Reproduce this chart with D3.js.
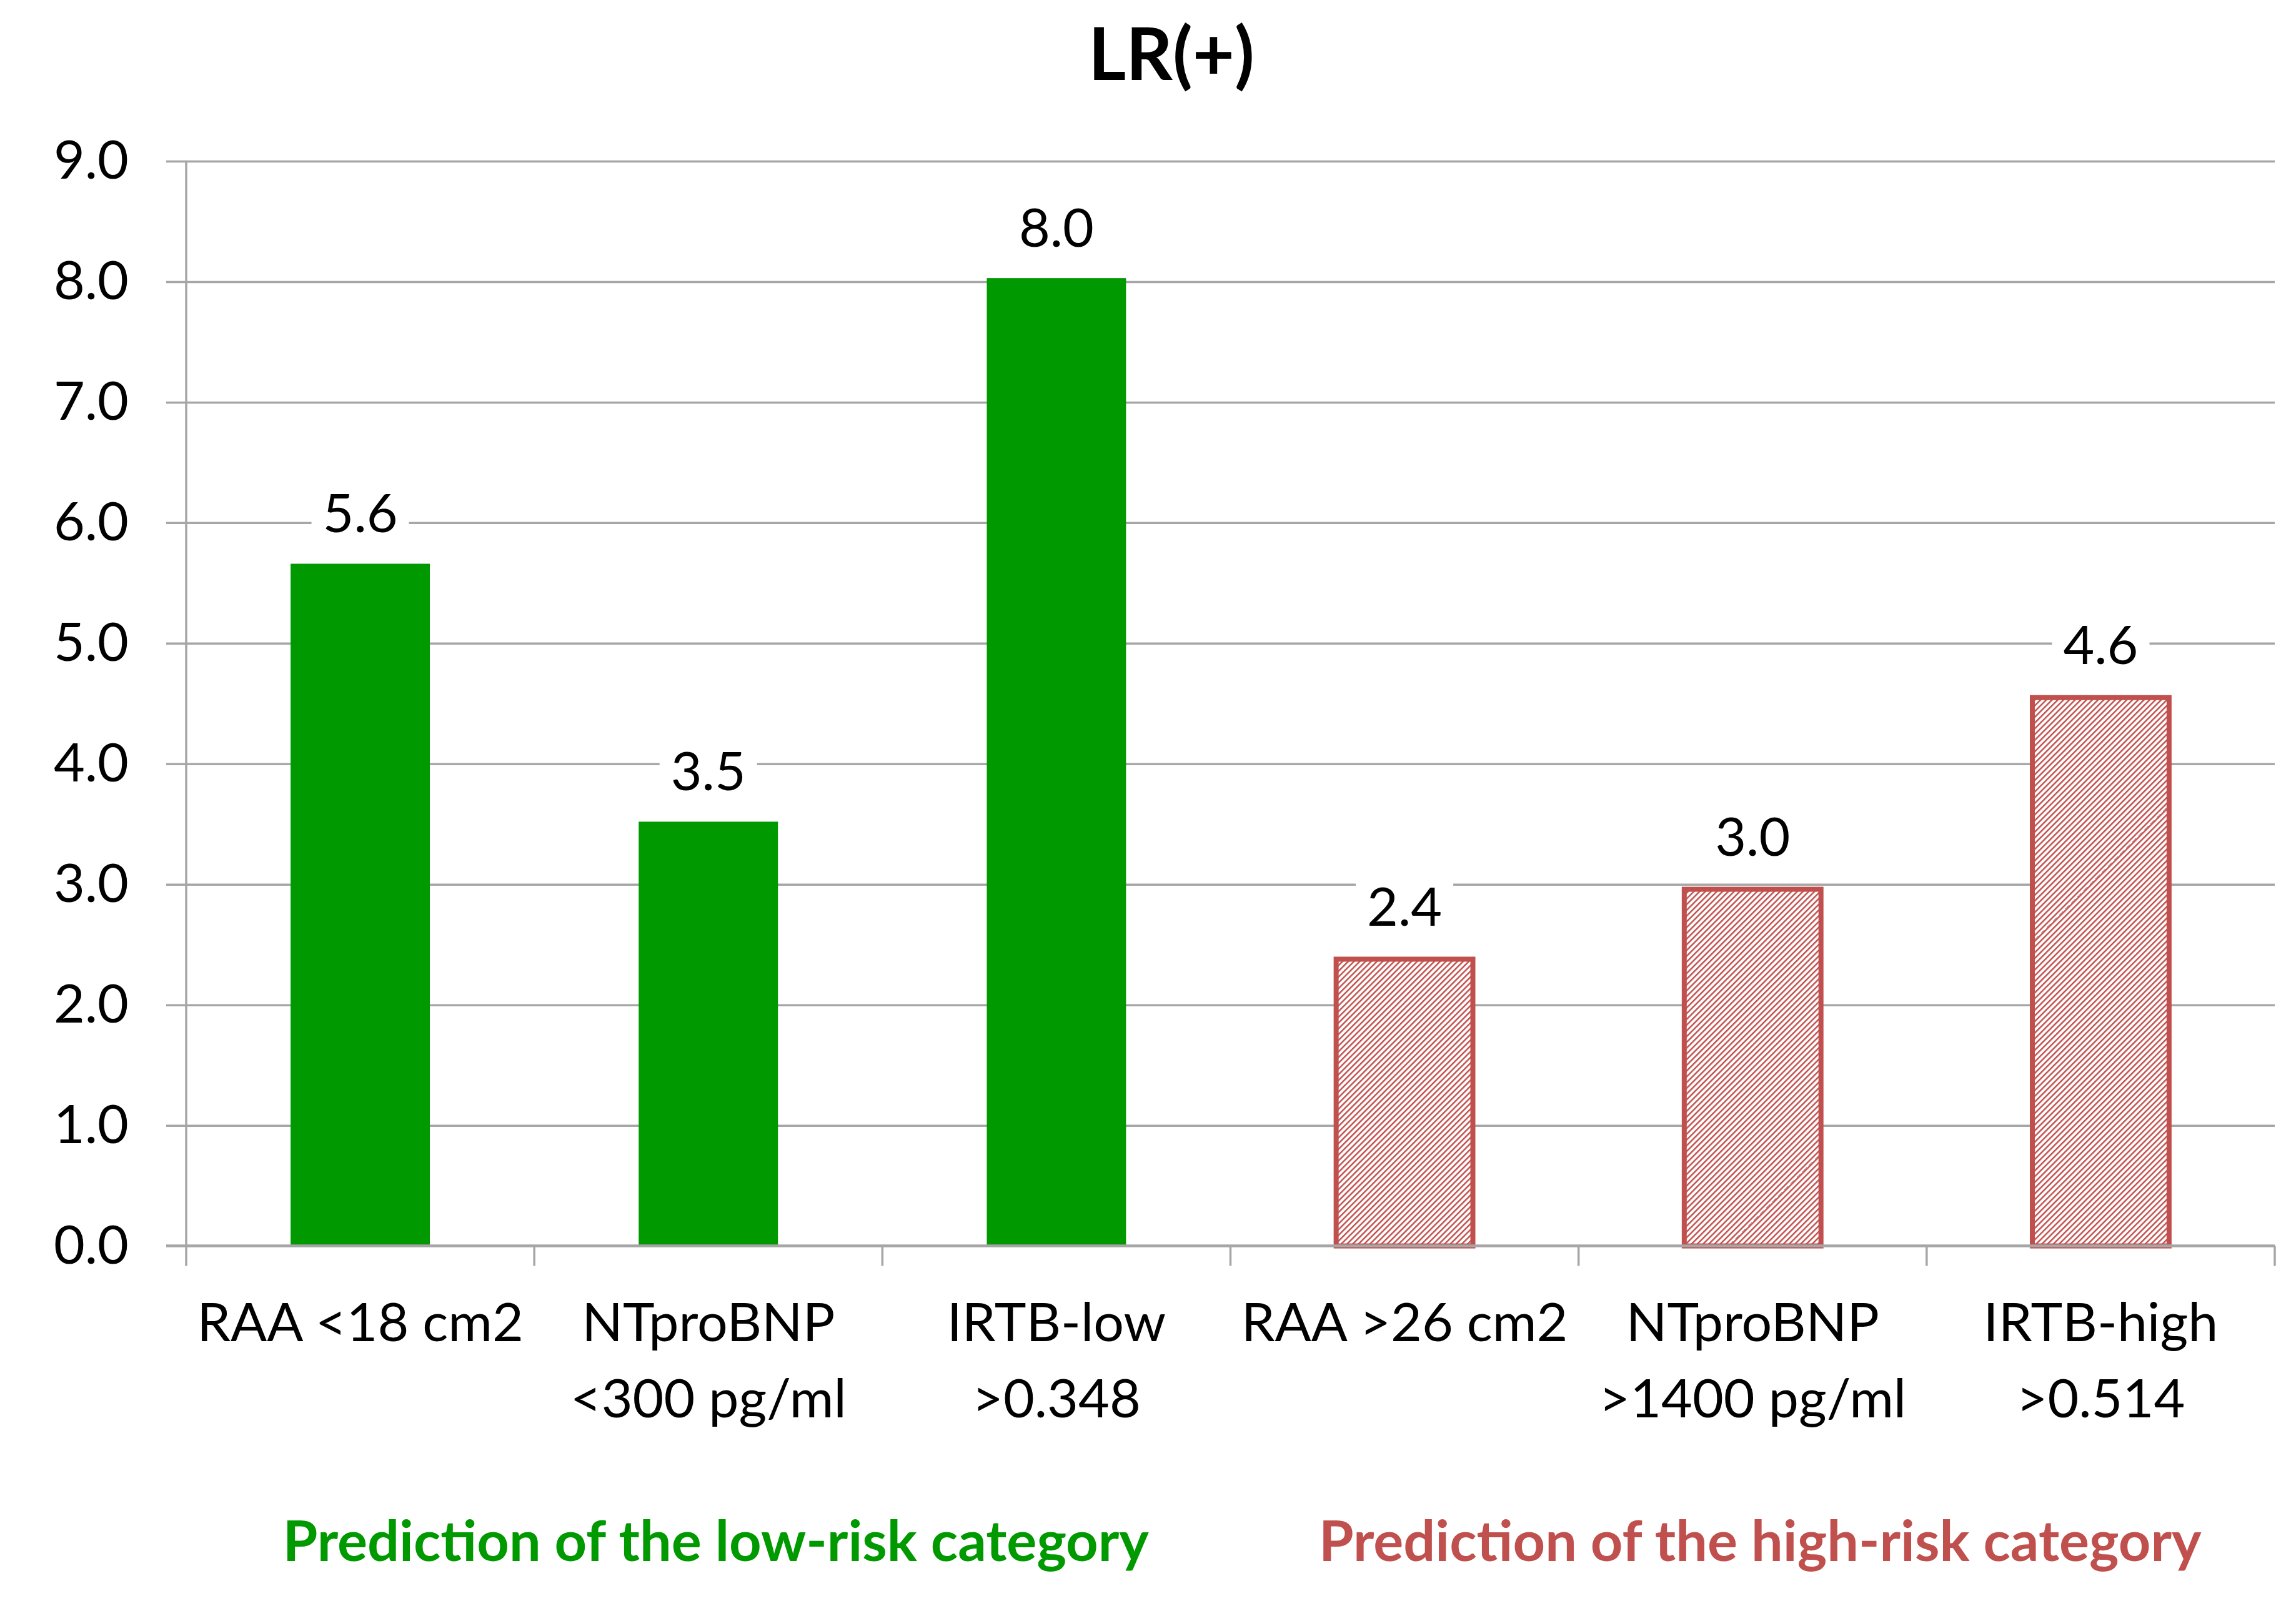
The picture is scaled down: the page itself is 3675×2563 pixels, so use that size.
<!DOCTYPE html>
<html>
<head>
<meta charset="utf-8">
<script src="https://cdn.jsdelivr.net/npm/d3@7"></script>
<style>
  html, body { margin: 0; padding: 0; background: #fff; }
  svg { display: block; }
  text { font-family: Lato, "Open Sans", sans-serif; }
</style>
</head>
<body>
<svg id="chart"></svg>
<script>
// data
const categories = ['RAA <18 cm2', 'NTproBNP <300 pg/ml', 'IRTB-low >0.348', 'RAA >26 cm2', 'NTproBNP >1400 pg/ml', 'IRTB-high >0.514'];
const categoryLines = [['RAA <18 cm2'], ['NTproBNP', '<300 pg/ml'], ['IRTB-low', '>0.348'], ['RAA >26 cm2'], ['NTproBNP', '>1400 pg/ml'], ['IRTB-high', '>0.514']];
const values = [5.66, 3.52, 8.03, 2.40, 2.98, 4.57];
const valueLabels = ['5.6', '3.5', '8.0', '2.4', '3.0', '4.6'];
const groups = ['low', 'low', 'low', 'high', 'high', 'high'];
const yTicks = [0, 1, 2, 3, 4, 5, 6, 7, 8, 9];
const groupLabels = [
  { key: 'low', text: 'Prediction of the low-risk category', cats: [0, 2], shift: 12 },
  { key: 'high', text: 'Prediction of the high-risk category', cats: [3, 5], shift: 12 }
];
const title = 'LR(+)';

// size
const width = 3675;
const height = 2563;
const x0 = 298, x1 = 3641;
const yTop = 258, yBottom = 1994.6;

const green = '#009900';
const red = '#c0504d';
const grey = '#a6a6a6';

const svg = d3.select('#chart')
  .attr('width', width)
  .attr('height', height);

svg.append('rect').attr('width', width).attr('height', height).attr('fill', '#fff');

// hatch pattern for high-risk bars
const defs = svg.append('defs');
const pat = defs.append('pattern')
  .attr('id', 'hatch')
  .attr('patternUnits', 'userSpaceOnUse')
  .attr('width', 6.5)
  .attr('height', 6.5)
  .attr('patternTransform', 'rotate(45)');
pat.append('rect').attr('width', 6.5).attr('height', 6.5).attr('fill', '#fff');
pat.append('line')
  .attr('x1', 0).attr('y1', 0).attr('x2', 0).attr('y2', 6.5)
  .attr('stroke', red).attr('stroke-width', 5);

// scales
const x = d3.scaleBand()
  .domain(categories)
  .range([x0, x1])
  .paddingInner(0.6)
  .paddingOuter(0.3);

const y = d3.scaleLinear()
  .domain([0, 9])
  .range([yBottom, yTop]);

// gridlines (extend left as outer ticks)
const grid = svg.append('g')
  .attr('transform', `translate(${x0 - 32},0)`)
  .call(d3.axisRight(y).tickValues(yTicks.slice(1)).tickSize(x1 - x0 + 32).tickFormat(''));
grid.select('.domain').remove();
grid.selectAll('line').attr('stroke', grey).attr('stroke-width', 3.5);

// y axis labels
const yAxis = svg.append('g')
  .attr('transform', `translate(${x0},0)`)
  .call(d3.axisLeft(y).tickValues(yTicks).tickSize(0).tickPadding(92).tickFormat(d3.format('.1f')));
yAxis.select('.domain').remove();
yAxis.selectAll('text')
  .attr('font-family', 'Lato')
  .attr('font-size', 86)
  .attr('fill', '#000');

// y axis line
svg.append('line')
  .attr('x1', x0).attr('x2', x0)
  .attr('y1', yTop).attr('y2', yBottom)
  .attr('stroke', grey).attr('stroke-width', 3.5);

// bars
svg.selectAll('.bar')
  .data(values)
  .enter()
  .append('rect')
  .attr('class', 'bar')
  .attr('x', (d, i) => x(categories[i]) + (groups[i] === 'high' ? 2 : 0))
  .attr('width', (d, i) => x.bandwidth() - (groups[i] === 'high' ? 4 : 0))
  .attr('y', (d, i) => y(d) + (groups[i] === 'high' ? 4 : 0))
  .attr('height', (d, i) => yBottom - y(d) - (groups[i] === 'high' ? 4 : 0))
  .attr('fill', (d, i) => groups[i] === 'high' ? 'url(#hatch)' : green)
  .attr('stroke', (d, i) => groups[i] === 'high' ? red : 'none')
  .attr('stroke-width', 8);

// x axis line with category separators
const step = x.step();
svg.append('line')
  .attr('x1', x0 - 32).attr('x2', x1)
  .attr('y1', yBottom).attr('y2', yBottom)
  .attr('stroke', grey).attr('stroke-width', 4.5);
svg.selectAll('.xtick')
  .data(d3.range(categories.length + 1))
  .enter()
  .append('line')
  .attr('class', 'xtick')
  .attr('x1', i => x0 + i * step)
  .attr('x2', i => x0 + i * step)
  .attr('y1', yBottom)
  .attr('y2', yBottom + 32)
  .attr('stroke', grey)
  .attr('stroke-width', 3.5);

// category labels
const catG = svg.selectAll('.cat')
  .data(categoryLines)
  .enter()
  .append('text')
  .attr('class', 'cat')
  .attr('text-anchor', 'middle')
  .attr('font-size', 86)
  .attr('fill', '#000');
catG.each(function(lines, i) {
  const cx = x(categories[i]) + x.bandwidth() / 2;
  d3.select(this).selectAll('tspan')
    .data(lines)
    .enter()
    .append('tspan')
    .attr('x', cx)
    .attr('y', (l, j) => 2147 + j * 122)
    .text(l => l);
});

// value labels with white box behind
const labelG = svg.selectAll('.vlabel')
  .data(values)
  .enter()
  .append('g')
  .attr('class', 'vlabel');
labelG.each(function(d, i) {
  const g = d3.select(this);
  const cx = x(categories[i]) + x.bandwidth() / 2;
  const t = g.append('text')
    .attr('x', cx)
    .attr('y', y(d) - 50)
    .attr('text-anchor', 'middle')
    .attr('font-size', 86)
    .attr('fill', '#000')
    .text(valueLabels[i]);
  const bb = t.node().getBBox();
  g.insert('rect', 'text')
    .attr('x', bb.x - 18)
    .attr('y', bb.y)
    .attr('width', bb.width + 36)
    .attr('height', bb.height)
    .attr('fill', '#fff');
});

// group labels
svg.selectAll('.glabel')
  .data(groupLabels)
  .enter()
  .append('text')
  .attr('class', 'glabel')
  .attr('x', d => (x(categories[d.cats[0]]) + x(categories[d.cats[1]]) + x.bandwidth()) / 2 + d.shift)
  .attr('y', 2499)
  .attr('text-anchor', 'middle')
  .attr('font-size', 90)
  .attr('font-weight', 'bold')
  .attr('fill', d => d.key === 'low' ? green : red)
  .text(d => d.text);

// title
svg.append('text')
  .attr('x', 1875)
  .attr('y', 128)
  .attr('text-anchor', 'middle')
  .attr('font-size', 116)
  .attr('font-weight', 'bold')
  .attr('fill', '#000')
  .text(title);
</script>
</body>
</html>
